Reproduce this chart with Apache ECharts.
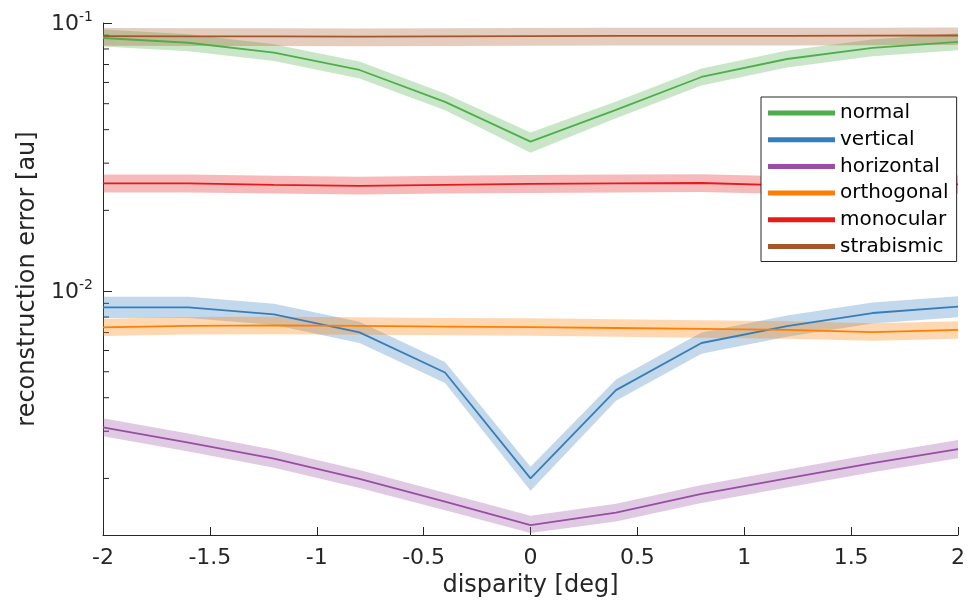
<!DOCTYPE html>
<html><head><meta charset="utf-8">
<script src="https://cdn.jsdelivr.net/npm/echarts@6/dist/echarts.min.js"></script>
<style>html,body{margin:0;padding:0;background:#fff}#c{width:972px;height:605px}</style>
</head><body><div id="c"></div>
<script>
const disparity = [-2, -1.6, -1.2, -0.8, -0.4, 0, 0.4, 0.8, 1.2, 1.6, 2];

const normalMean  = [0.0879, 0.0844, 0.0775, 0.0668, 0.0508, 0.0361, 0.0474, 0.0629, 0.0734, 0.0807, 0.0851];
const normalLow   = [0.0818, 0.0785, 0.0721, 0.0621, 0.0473, 0.0328, 0.0441, 0.0585, 0.0683, 0.0751, 0.0792];
const normalHigh  = [0.0945, 0.0907, 0.0833, 0.0718, 0.0546, 0.0390, 0.0510, 0.0676, 0.0789, 0.0868, 0.0915];

const verticalMean = [0.00869, 0.00869, 0.00818, 0.00701, 0.00497, 0.00200, 0.00427, 0.00640, 0.00740, 0.00828, 0.00874];
const verticalLow  = [0.00794, 0.00794, 0.00747, 0.00640, 0.00454, 0.00180, 0.00390, 0.00584, 0.00676, 0.00756, 0.00798];
const verticalHigh = [0.00952, 0.00952, 0.00896, 0.00768, 0.00544, 0.00221, 0.00468, 0.00701, 0.00810, 0.00907, 0.00957];

const horizontalMean = [0.00310, 0.00272, 0.00237, 0.00199, 0.00164, 0.00134, 0.00149, 0.00175, 0.00200, 0.00228, 0.00257];
const horizontalLow  = [0.00287, 0.00252, 0.00219, 0.00184, 0.00152, 0.00125, 0.00138, 0.00162, 0.00185, 0.00211, 0.00238];
const horizontalHigh = [0.00335, 0.00294, 0.00256, 0.00215, 0.00177, 0.00145, 0.00161, 0.00189, 0.00216, 0.00246, 0.00278];

const orthogonalMean = [0.00732, 0.00742, 0.00744, 0.00741, 0.00737, 0.00734, 0.00728, 0.00722, 0.00716, 0.00703, 0.00716];
const orthogonalLow  = [0.00679, 0.00688, 0.00690, 0.00687, 0.00684, 0.00681, 0.00675, 0.00670, 0.00664, 0.00652, 0.00664];
const orthogonalHigh = [0.00789, 0.00800, 0.00802, 0.00799, 0.00794, 0.00791, 0.00785, 0.00778, 0.00772, 0.00758, 0.00772];

const monocularMean = [0.0252, 0.0252, 0.0249, 0.0247, 0.0249, 0.0251, 0.0252, 0.0253, 0.0248, 0.0250, 0.0250];
const monocularLow  = [0.0233, 0.0233, 0.0231, 0.0229, 0.0231, 0.0232, 0.0233, 0.0234, 0.0230, 0.0231, 0.0231];
const monocularHigh = [0.0272, 0.0272, 0.0269, 0.0267, 0.0269, 0.0271, 0.0272, 0.0273, 0.0268, 0.0270, 0.0270];

const strabismicMean = [0.0893, 0.0892, 0.0891, 0.0890, 0.0891, 0.0893, 0.0895, 0.0896, 0.0896, 0.0897, 0.0898];
const strabismicLow  = [0.0822, 0.0821, 0.0820, 0.0819, 0.0820, 0.0822, 0.0824, 0.0825, 0.0825, 0.0826, 0.0827];
const strabismicHigh = [0.0957, 0.0956, 0.0955, 0.0954, 0.0955, 0.0957, 0.0959, 0.0960, 0.0960, 0.0961, 0.0962];

const minorTickValues = [0.002, 0.003, 0.004, 0.005, 0.006, 0.007, 0.008, 0.009,
                         0.02, 0.03, 0.04, 0.05, 0.06, 0.07, 0.08, 0.09];

const seriesNames = ['normal', 'vertical', 'horizontal', 'orthogonal', 'monocular', 'strabismic'];
const seriesColors = ['#4daf4a', '#377eb8', '#984ea3', '#ff7f00', '#e41a1c', '#a65628'];
const bandColors = ['rgba(77,175,74,0.3)', 'rgba(55,126,184,0.3)', 'rgba(152,78,163,0.3)',
                    'rgba(255,127,0,0.3)', 'rgba(228,26,28,0.3)', 'rgba(166,86,40,0.3)'];
const means = [normalMean, verticalMean, horizontalMean, orthogonalMean, monocularMean, strabismicMean];
const lows = [normalLow, verticalLow, horizontalLow, orthogonalLow, monocularLow, strabismicLow];
const highs = [normalHigh, verticalHigh, horizontalHigh, orthogonalHigh, monocularHigh, strabismicHigh];

const AX = '#262626';
const FONT = 'DejaVu Sans';

const series = [];
series.push({
  type: 'custom', name: 'minorTicks', silent: true, clip: false,
  data: minorTickValues.map(v => [disparity[0], v]),
  renderItem: function (params, api) {
    const p = api.coord([api.value(0), api.value(1)]);
    return {type: 'line', shape: {x1: p[0], y1: p[1], x2: p[0] + 6, y2: p[1]},
            style: {stroke: AX, lineWidth: 1}};
  }
});
seriesNames.forEach((name, k) => {
  const lo = lows[k], hi = highs[k];
  series.push({
    type: 'custom', name: name + ' band', silent: true,
    data: [[disparity[0], means[k][0]]],
    renderItem: function (params, api) {
      const pts = [];
      for (let i = 0; i < disparity.length; i++) pts.push(api.coord([disparity[i], hi[i]]));
      for (let i = disparity.length - 1; i >= 0; i--) pts.push(api.coord([disparity[i], lo[i]]));
      return {type: 'polygon', shape: {points: pts}, style: {fill: bandColors[k], stroke: null}};
    }
  });
  series.push({
    type: 'line', name: name, color: seriesColors[k],
    data: disparity.map((x, i) => [x, means[k][i]]),
    symbol: 'none', showSymbol: false, silent: true,
    lineStyle: {width: 1.8, color: seriesColors[k]}
  });
});

const chart = echarts.init(document.getElementById('c'), null, {renderer: 'canvas'});
chart.setOption({
  animation: false,
  backgroundColor: '#fff',
  grid: {left: 103, right: 14, top: 23, bottom: 70, containLabel: false},
  xAxis: {
    type: 'value', min: -2, max: 2, interval: 0.5,
    name: 'disparity [deg]', nameLocation: 'middle', nameGap: 33,
    nameTextStyle: {fontSize: 24, fontFamily: FONT, color: AX},
    axisLine: {show: true, onZero: false, lineStyle: {color: AX, width: 1}},
    axisTick: {show: true, inside: true, length: 8, lineStyle: {color: AX}},
    axisLabel: {fontSize: 22, fontFamily: FONT, color: AX, margin: 12},
    splitLine: {show: false}
  },
  yAxis: {
    type: 'log', logBase: 10, min: 0.00123, max: 0.1,
    name: 'reconstruction error [au]', nameLocation: 'middle', nameGap: 62,
    nameTextStyle: {fontSize: 24, fontFamily: FONT, color: AX},
    axisLine: {show: true, onZero: false, lineStyle: {color: AX, width: 1}},
    axisTick: {show: true, inside: true, length: 9, lineStyle: {color: AX}},
    axisLabel: {
      margin: 10, fontFamily: FONT, color: AX,
      formatter: function (v) {
        const e = Math.log10(v);
        if (Math.abs(e - Math.round(e)) > 1e-6) return '';
        return '{m|10}{s|' + Math.round(e) + '}';
      },
      rich: {
        m: {fontSize: 22, fontFamily: FONT, color: AX, lineHeight: 25, verticalAlign: 'bottom'},
        s: {fontSize: 14, fontFamily: FONT, color: AX, lineHeight: 14, verticalAlign: 'top'}
      }
    },
    splitLine: {show: false},
    minorTick: {show: false}
  },
  legend: {
    data: seriesNames, orient: 'vertical', left: 761, top: 97,
    padding: [6, 8, 5, 7], itemWidth: 67, itemHeight: 5, itemGap: 6.7,
    icon: 'rect', selectedMode: false,
    borderColor: AX, borderWidth: 1, backgroundColor: '#fff',
    textStyle: {fontSize: 20, fontFamily: FONT, color: '#000', lineHeight: 20}
  },
  series: series
});
</script>
</body></html>
